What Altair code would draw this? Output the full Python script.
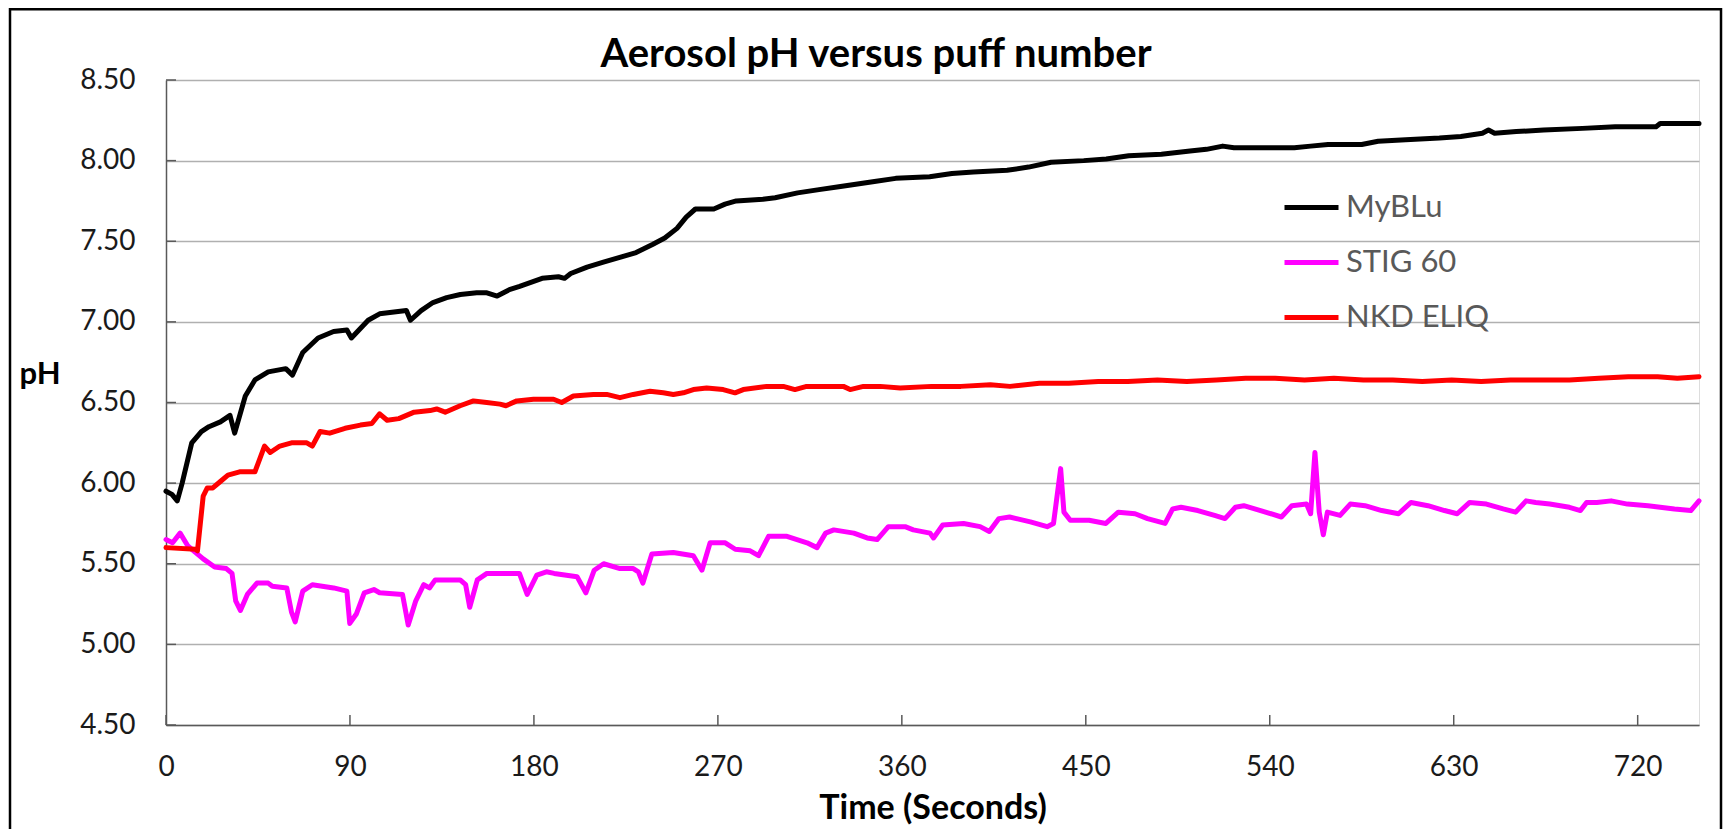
import altair as alt
import pandas as pd

# ---------------- data ----------------
series_names = ["MyBLu", "STIG 60", "NKD ELIQ"]
series_colors = ["#000000", "#FF00FF", "#FF0000"]
chart_title = "Aerosol pH versus puff number"

myblu_t = [0, 2.9, 5.5, 7.9, 12.6, 17.3, 21, 26.6, 31.3, 33.6, 38.8, 43.5, 50, 58.6, 61.9, 66.9, 74.4,
           82, 88.5, 90.7, 98.9, 104.5, 117.6, 119.6, 124.8, 130.6, 137.3, 144, 152, 157, 162, 168,
           173, 184, 192, 195, 198, 206, 214, 222, 230, 238, 244, 250, 254.5, 259, 268, 273.5, 279,
           292, 298, 309, 319.5, 330, 346.6, 357, 373.6, 384.5, 395, 411.5, 422, 433, 449, 460, 471,
           487, 501, 509, 517, 522.5, 536, 552, 560, 568.5, 585, 593, 606.5, 623, 633.5, 644, 647,
           650, 660.6, 674, 693, 709, 725.6, 729, 731, 750]
myblu_ph = [5.95, 5.93, 5.89, 6.00, 6.25, 6.32, 6.35, 6.38, 6.42, 6.31, 6.54, 6.64, 6.69, 6.71, 6.67,
            6.81, 6.90, 6.94, 6.95, 6.90, 7.01, 7.05, 7.07, 7.01, 7.07, 7.12, 7.15, 7.17, 7.18, 7.18,
            7.16, 7.20, 7.22, 7.27, 7.28, 7.27, 7.30, 7.34, 7.37, 7.40, 7.43, 7.48, 7.52, 7.58, 7.65,
            7.70, 7.70, 7.73, 7.75, 7.76, 7.77, 7.80, 7.82, 7.84, 7.87, 7.89, 7.90, 7.92, 7.93, 7.94,
            7.96, 7.99, 8.00, 8.01, 8.03, 8.04, 8.06, 8.07, 8.09, 8.08, 8.08, 8.08, 8.09, 8.10, 8.10,
            8.12, 8.13, 8.14, 8.15, 8.17, 8.19, 8.17, 8.18, 8.19, 8.20, 8.21, 8.21, 8.21, 8.23, 8.23]

stig_t = [0, 3.2, 6.9, 10.7, 14.4, 18.2, 23.8, 29.5, 32.3, 34.1, 36.4, 39.8, 44.5, 50.0, 52.0, 59.1,
          61.4, 63.2, 66.9, 71.6, 82.0, 88.5, 89.9, 93.2, 97.0, 101.7, 104.5, 115.7, 118.5, 122.2,
          126.1, 128.9, 131.7, 143.9, 146.6, 148.6, 152.3, 157.0, 172.9, 176.7, 181.4, 186.1, 189.9,
          201.1, 205.4, 209.5, 214.1, 222.1, 228.6, 231.1, 233.3, 237.7, 248.2, 258.0, 262.2, 266.2,
          273.6, 278.5, 285.8, 289.9, 294.8, 303.8, 313.6, 318.5, 322.7, 326.7, 336.5, 343.0, 347.9,
          353.4, 361.6, 365.6, 373.8, 375.5, 380.0, 390.2, 398.3, 402.8, 407.5, 412.7, 422.9, 431.1,
          434.2, 437.7, 439.3, 442.4, 451.6, 459.8, 465.9, 474.1, 480.2, 488.8, 492.5, 496.6, 504.8,
          513.0, 518.1, 523.2, 527.3, 535.5, 545.7, 550.8, 558.0, 560.0, 562.1, 564.2, 566.2, 568.2,
          574.4, 579.4, 586.6, 594.8, 603.0, 609.1, 617.4, 625.5, 631.7, 637.8, 646.0, 654.2, 660.3,
          665.4, 670.1, 677.0, 686.6, 692.0, 695.0, 700.0, 707.0, 715.0, 725.0, 738.0, 746.0, 750.0]
stig_ph = [5.65, 5.63, 5.69, 5.61, 5.57, 5.53, 5.48, 5.47, 5.44, 5.27, 5.21, 5.31, 5.38, 5.38, 5.36,
           5.35, 5.20, 5.14, 5.33, 5.37, 5.35, 5.33, 5.13, 5.19, 5.32, 5.34, 5.32, 5.31, 5.12, 5.27,
           5.37, 5.35, 5.40, 5.40, 5.37, 5.23, 5.40, 5.44, 5.44, 5.31, 5.43, 5.45, 5.44, 5.42, 5.32,
           5.46, 5.50, 5.47, 5.47, 5.45, 5.38, 5.56, 5.57, 5.55, 5.46, 5.63, 5.63, 5.59, 5.58, 5.55,
           5.67, 5.67, 5.63, 5.60, 5.69, 5.71, 5.69, 5.66, 5.65, 5.73, 5.73, 5.71, 5.69, 5.66, 5.74,
           5.75, 5.73, 5.70, 5.78, 5.79, 5.76, 5.73, 5.75, 6.09, 5.82, 5.77, 5.77, 5.75, 5.82, 5.81,
           5.78, 5.75, 5.84, 5.85, 5.83, 5.80, 5.78, 5.85, 5.86, 5.83, 5.79, 5.86, 5.87, 5.81, 6.19,
           5.82, 5.68, 5.82, 5.80, 5.87, 5.86, 5.83, 5.81, 5.88, 5.86, 5.83, 5.81, 5.88, 5.87, 5.84,
           5.82, 5.89, 5.88, 5.87, 5.85, 5.83, 5.88, 5.88, 5.89, 5.87, 5.86, 5.84, 5.83, 5.89]

nkd_t = [0, 14.4, 15.4, 18.2, 20.2, 22.9, 26.6, 30.3, 36.0, 43.5, 48.2, 51.0, 55.7, 61.4, 68.9, 71.6,
         75.4, 80.1, 87.6, 95.1, 100.7, 104.5, 108.2, 113.9, 121.4, 129.2, 132.4, 136.6, 143.9, 150.4,
         156.9, 163.4, 166.3, 171.6, 179.8, 189.6, 193.6, 199.3, 209.1, 215.6, 222.1, 228.6, 236.8,
         243.3, 248.2, 253.1, 258.0, 264.5, 272.6, 278.4, 282.4, 293.9, 302.0, 307.7, 313.4, 321.6,
         331.4, 334.7, 341.2, 349.4, 359.2, 374.5, 388.9, 403.3, 412.9, 427.3, 441.7, 456.1, 470.5,
         485.0, 499.4, 513.8, 528.2, 542.6, 557.0, 571.4, 585.8, 600.2, 614.6, 629.0, 643.4, 657.8,
         672.2, 686.6, 701.0, 715.4, 729.8, 739.4, 750.0]
nkd_ph = [5.60, 5.59, 5.58, 5.92, 5.97, 5.97, 6.01, 6.05, 6.07, 6.07, 6.23, 6.19, 6.23, 6.25, 6.25,
          6.23, 6.32, 6.31, 6.34, 6.36, 6.37, 6.43, 6.39, 6.40, 6.44, 6.45, 6.46, 6.44, 6.48, 6.51,
          6.50, 6.49, 6.48, 6.51, 6.52, 6.52, 6.50, 6.54, 6.55, 6.55, 6.53, 6.55, 6.57, 6.56, 6.55,
          6.56, 6.58, 6.59, 6.58, 6.56, 6.58, 6.60, 6.60, 6.58, 6.60, 6.60, 6.60, 6.58, 6.60, 6.60,
          6.59, 6.60, 6.60, 6.61, 6.60, 6.62, 6.62, 6.63, 6.63, 6.64, 6.63, 6.64, 6.65, 6.65, 6.64,
          6.65, 6.64, 6.64, 6.63, 6.64, 6.63, 6.64, 6.64, 6.64, 6.65, 6.66, 6.66, 6.65, 6.66]

x_ticks = [0, 90, 180, 270, 360, 450, 540, 630, 720]
y_ticks = [4.5, 5.0, 5.5, 6.0, 6.5, 7.0, 7.5, 8.0, 8.5]
x_max = 750

# ---------------- tables ----------------
frames = []
for name, ts, ps in [("MyBLu", myblu_t, myblu_ph), ("STIG 60", stig_t, stig_ph), ("NKD ELIQ", nkd_t, nkd_ph)]:
    frames.append(pd.DataFrame({"t": ts, "ph": ps, "series": name}))
xt_df = pd.DataFrame({"t": x_ticks})
yt_df = pd.DataFrame({"ph": y_ticks})
one = pd.DataFrame({"k": [0]})

W, H = 1533, 645
FONT = "Lato"

x_scale = alt.Scale(domain=[0, x_max], nice=False, zero=False)
y_scale = alt.Scale(domain=[4.5, 8.5], nice=False, zero=False)
color_scale = alt.Scale(domain=series_names, range=series_colors)

x_axis = alt.Axis(values=x_ticks, title="Time (Seconds)", grid=False, ticks=False, tickSize=0,
                  labelFont=FONT, labelFontSize=28, labelColor="#1a1a1a", labelPadding=28,
                  labelFlush=False, labelOverlap=False,
                  titleFont=FONT, titleFontSize=34, titleFontWeight="bold", titleColor="#000000",
                  titleBaseline="alphabetic", titleY=93, domainColor="#595959", domainWidth=1.5)
y_axis = alt.Axis(values=y_ticks, format=".2f", title="pH", grid=True, gridColor="#b0b0b0",
                  gridWidth=1.6, ticks=False, tickSize=0, labelFont=FONT, labelFontSize=28,
                  labelColor="#1a1a1a", labelPadding=31, labelFlush=False, labelOverlap=False,
                  titleFont=FONT, titleFontSize=31,
                  titleFontWeight="bold", titleColor="#000000", titleAngle=0, titleAlign="left",
                  titleBaseline="alphabetic", titleX=-147, titleY=303, domainColor="#595959",
                  domainWidth=1.5)

legend = alt.Legend(title=None, orient="none", legendX=1116, legendY=98, symbolType="stroke",
                    symbolSize=2916, symbolStrokeWidth=5, labelFont=FONT, labelFontSize=31,
                    labelColor="#595959", labelOffset=5, rowPadding=10, padding=0)

X = alt.X("t:Q", scale=x_scale, axis=x_axis)
Y = alt.Y("ph:Q", scale=y_scale, axis=y_axis)

layers = []
for f in frames:
    layers.append(
        alt.Chart(f).mark_line(strokeWidth=5, strokeJoin="round", strokeCap="round").encode(
            x=X, y=Y, color=alt.Color("series:N", scale=color_scale, legend=legend),
        )
    )

xticks_layer = alt.Chart(xt_df).mark_rule(color="#595959", strokeWidth=1.5).encode(
    x=X, y=alt.value(H - 10), y2=alt.value(H))
yticks_layer = alt.Chart(yt_df).mark_rule(color="#595959", strokeWidth=1.5).encode(
    y=Y, x=alt.value(0), x2=alt.value(10))
frame_layer = alt.Chart(one).mark_rect(fill=None, stroke="#000000", strokeWidth=2.5).encode(
    x=alt.value(-156), x2=alt.value(1555), y=alt.value(-70.7), y2=alt.value(900))
title_layer = alt.Chart(one).mark_text(text=chart_title, font=FONT, fontSize=40, fontWeight="bold",
                                       color="#000000", align="center", baseline="alphabetic").encode(
    x=alt.value(710), y=alt.value(-13))

chart = alt.layer(frame_layer, title_layer, xticks_layer, yticks_layer, *layers).properties(
    width=W, height=H,
    autosize=alt.AutoSizeParams(type="none"),
    padding={"left": 158, "top": 72, "right": 29, "bottom": 104},
).configure_view(stroke="#595959", strokeWidth=1.5).configure(background="white")

chart.save("out.html", embed_options={"renderer": "svg", "actions": False})
